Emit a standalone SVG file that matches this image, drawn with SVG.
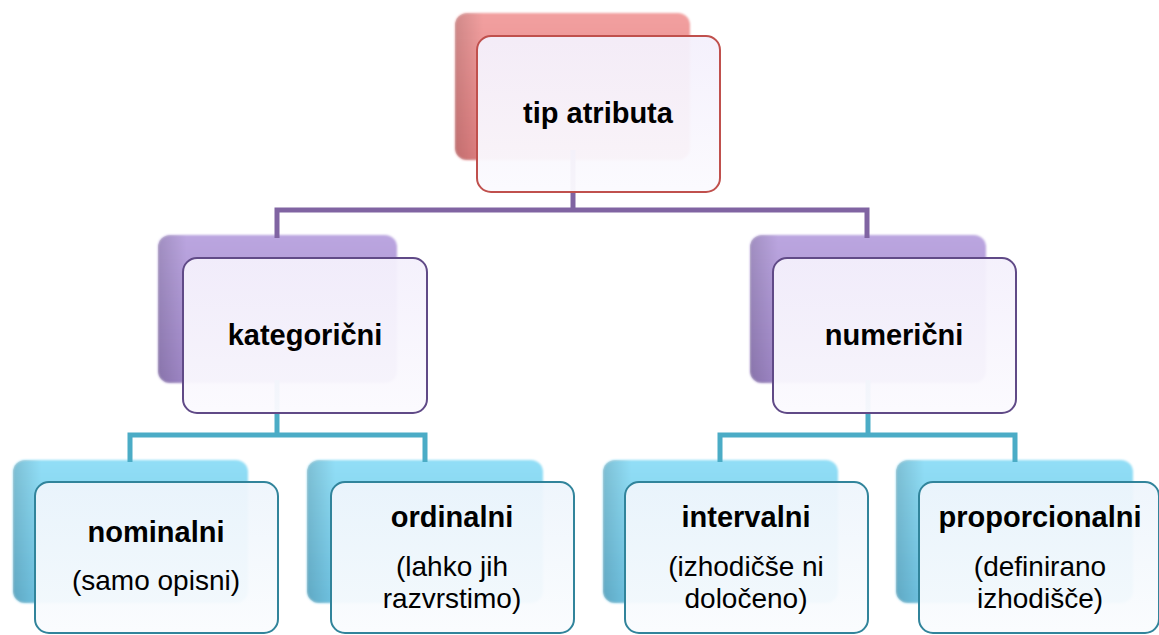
<svg xmlns="http://www.w3.org/2000/svg" width="1159" height="635" viewBox="0 0 1159 635">
  <defs>
    <!-- back-plate fills, lighter at the top -->
    <linearGradient id="gRed" x1="0" y1="0" x2="0" y2="1">
      <stop offset="0" stop-color="#F2A0A0"/>
      <stop offset="1" stop-color="#E07F80"/>
    </linearGradient>
    <linearGradient id="gPurple" x1="0" y1="0" x2="0" y2="1">
      <stop offset="0" stop-color="#BBA6E0"/>
      <stop offset="1" stop-color="#9E86C6"/>
    </linearGradient>
    <linearGradient id="gCyan" x1="0" y1="0" x2="0" y2="1">
      <stop offset="0" stop-color="#92DEF6"/>
      <stop offset="1" stop-color="#6EC3E2"/>
    </linearGradient>
    <!-- darker bevel along the left edge of each plate -->
    <linearGradient id="gBevel" x1="0" y1="0" x2="1" y2="0">
      <stop offset="0" stop-color="#000" stop-opacity="0.14"/>
      <stop offset="0.12" stop-color="#000" stop-opacity="0"/>
    </linearGradient>
    <!-- front card fill -->
    <linearGradient id="gCard" x1="0" y1="0" x2="0" y2="1">
      <stop offset="0" stop-color="#F4F0FC" stop-opacity="0.95"/>
      <stop offset="1" stop-color="#FBFAFE" stop-opacity="0.96"/>
    </linearGradient>
    <linearGradient id="gCardC" x1="0" y1="0" x2="0" y2="1">
      <stop offset="0" stop-color="#EEF5FC" stop-opacity="0.95"/>
      <stop offset="1" stop-color="#FAFCFE" stop-opacity="0.96"/>
    </linearGradient>
    <filter id="soft" x="-5%" y="-5%" width="110%" height="110%">
      <feGaussianBlur stdDeviation="1.2"/>
    </filter>
  </defs>
  <style>
    .plate { filter: url(#soft); }
    .plR { fill: url(#gRed); }
    .plP { fill: url(#gPurple); }
    .plC { fill: url(#gCyan); }
    .bevel { fill: url(#gBevel); }
    .card { fill: url(#gCard); stroke-width: 2; }
    .cardR { stroke: #C0504D; }
    .cardP { stroke: #604A87; }
    .cardC { fill: url(#gCardC); stroke: #31849B; }
    .link { fill: none; stroke-width: 5; stroke-linejoin: miter; }
    .linkP { stroke: #8064A2; }
    .linkC { stroke: #4BACC6; }
    .h { font-family: "Liberation Sans", Arial, sans-serif; font-weight: bold; font-size: 29px; text-anchor: middle; fill: #000; }
    .t { font-family: "Liberation Sans", Arial, sans-serif; font-size: 28px; text-anchor: middle; fill: #000; }
  </style>

  <rect width="1159" height="635" fill="#FFFFFF"/>

  <!-- back plates -->
  <g id="plates">
    <rect class="plate plR" x="455" y="13" width="235" height="147" rx="12"/>
    <rect class="bevel" x="455" y="13" width="235" height="147" rx="12"/>
    <rect class="plate plP" x="158" y="235" width="239" height="148" rx="12"/>
    <rect class="bevel" x="158" y="235" width="239" height="148" rx="12"/>
    <rect class="plate plP" x="750" y="235" width="236" height="148" rx="12"/>
    <rect class="bevel" x="750" y="235" width="236" height="148" rx="12"/>
    <rect class="plate plC" x="13" y="460" width="235" height="143" rx="12"/>
    <rect class="bevel" x="13" y="460" width="235" height="143" rx="12"/>
    <rect class="plate plC" x="307" y="460" width="236" height="143" rx="12"/>
    <rect class="bevel" x="307" y="460" width="236" height="143" rx="12"/>
    <rect class="plate plC" x="603" y="460" width="235" height="143" rx="12"/>
    <rect class="bevel" x="603" y="460" width="235" height="143" rx="12"/>
    <rect class="plate plC" x="896" y="460" width="237" height="143" rx="12"/>
    <rect class="bevel" x="896" y="460" width="237" height="143" rx="12"/>
  </g>

  <!-- connectors -->
  <g id="connectors">
    <path class="link linkP" d="M573,150 V210"/>
    <path class="link linkP" d="M277,238 V210 H867 V238"/>
    <path class="link linkC" d="M277,380 V435"/>
    <path class="link linkC" d="M130,462 V435 H425 V462"/>
    <path class="link linkC" d="M868,380 V435"/>
    <path class="link linkC" d="M720,462 V435 H1015 V462"/>
  </g>

  <g id="node-tip-atributa">
    <rect class="card cardR" x="477" y="36" width="243" height="156" rx="14"/>
    <text class="h" x="598" y="123">tip atributa</text>
  </g>

  <g id="node-kategoricni">
    <rect class="card cardP" x="183" y="258" width="244" height="155" rx="14"/>
    <text class="h" x="305" y="345">kategorični</text>
  </g>

  <g id="node-numericni">
    <rect class="card cardP" x="773" y="258" width="243" height="155" rx="14"/>
    <text class="h" x="894" y="345">numerični</text>
  </g>

  <g id="node-nominalni">
    <rect class="card cardC" x="35" y="482" width="243" height="151" rx="14"/>
    <text class="h" x="156" y="542">nominalni</text>
    <text class="t" x="156" y="590">(samo opisni)</text>
  </g>

  <g id="node-ordinalni">
    <rect class="card cardC" x="331" y="482" width="243" height="151" rx="14"/>
    <text class="h" x="452" y="527">ordinalni</text>
    <text class="t" x="452" y="576">(lahko jih</text>
    <text class="t" x="452" y="608">razvrstimo)</text>
  </g>

  <g id="node-intervalni">
    <rect class="card cardC" x="625" y="482" width="243" height="151" rx="14"/>
    <text class="h" x="746" y="527">intervalni</text>
    <text class="t" x="746" y="576">(izhodičše ni</text>
    <text class="t" x="746" y="608">določeno)</text>
  </g>

  <g id="node-proporcionalni">
    <rect class="card cardC" x="919" y="482" width="240" height="151" rx="14"/>
    <text class="h" x="1040" y="527">proporcionalni</text>
    <text class="t" x="1040" y="576">(definirano</text>
    <text class="t" x="1040" y="608">izhodišče)</text>
  </g>
</svg>
